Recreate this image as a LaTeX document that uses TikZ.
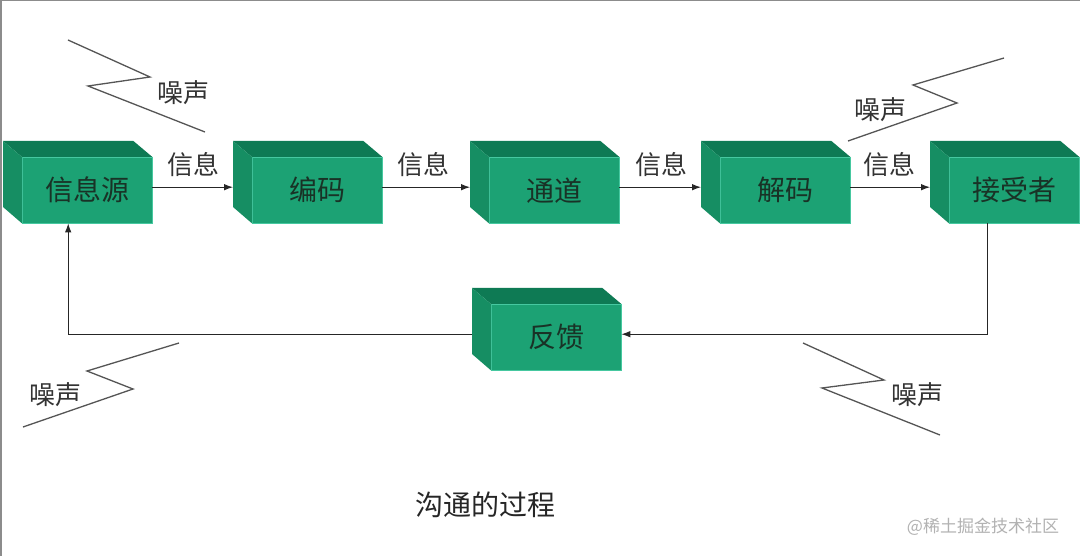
\documentclass[tikz,border=0pt]{standalone}
\usepackage{fontspec}
\setmainfont{Noto Sans CJK SC}
\usetikzlibrary{arrows.meta,calc}
\definecolor{gfront}{RGB}{28,162,116}
\definecolor{gtop}{RGB}{14,122,84}
\definecolor{gleft}{RGB}{22,142,99}
\definecolor{gedge}{RGB}{70,200,160}
\definecolor{gtext}{RGB}{25,50,38}
\definecolor{noisec}{RGB}{85,85,85}
\definecolor{framec}{RGB}{140,140,140}
\tikzset{
  front/.style={fill=gfront, draw=gedge, line width=0.4pt, minimum width=130pt, minimum height=66pt, inner sep=0pt, text=gtext, font=\fontsize{28}{28}\selectfont},
  arr/.style={draw=black!85, line width=0.9pt, -{Latex[length=9pt,width=6.5pt]}},
  lbl/.style={font=\fontsize{26}{26}\selectfont, text=black!80, inner sep=0pt},
  noise/.style={draw=noisec, line width=1.3pt, line join=miter},
}
\newcommand\gcube[4]{%
  \node[front, anchor=north west] (#1) at (#2,#3) {\raisebox{-3pt}{#4}};
  \fill[gtop] (#1.north west) -- ++(-19,-16) -- ([xshift=-19pt,yshift=16pt]#1.north east) -- (#1.north east) -- cycle;
  \fill[gleft] (#1.north west) -- ++(-19,-16) -- ++(0,66) -- (#1.south west) -- cycle;
}
\begin{document}
\begin{tikzpicture}[x=1pt,y=-1pt]
\useasboundingbox (0,0) rectangle (1080,556);
\fill[white] (0,0) rectangle (1080,556);
\draw[framec, line width=1.2pt] (1,556) -- (1,0.6) -- (1080,0.6);

% boxes
\gcube{src}{22}{157}{信息源}
\gcube{enc}{252}{157}{编码}
\gcube{chn}{489}{157}{通道}
\gcube{dec}{720}{157}{解码}
\gcube{rcv}{949}{157}{接受者}
\gcube{fb}{491}{304}{反馈}

% forward arrows
\draw[arr] ([yshift=3pt]src.east) -- ([xshift=-19pt,yshift=3pt]enc.west);
\draw[arr] ([yshift=3pt]enc.east) -- ([xshift=-19pt,yshift=3pt]chn.west);
\draw[arr] ([yshift=3pt]chn.east) -- ([xshift=-19pt,yshift=3pt]dec.west);
\draw[arr] ([yshift=3pt]dec.east) -- ([xshift=-19pt,yshift=3pt]rcv.west);

\node[lbl] (m1) at (193,165) {信息};
\node[lbl] (m2) at (423,165) {信息};
\node[lbl] (m3) at (661,165) {信息};
\node[lbl] (m4) at (889,165) {信息};

% feedback loop
\draw[arr] ([xshift=-27pt]rcv.south) |- ([yshift=3pt]fb.east);
\draw[arr] ([xshift=-19pt,yshift=3pt]fb.west) -| ([xshift=-19pt]src.south);

% noise
\draw[noise] (68,40) -- (150,77) -- (88,86) -- (205,132);
\node[lbl] (n1) at (183,93) {噪声};
\draw[noise] (1004,58) -- (913,85) -- (957,103) -- (848,141);
\node[lbl] (n2) at (880,110) {噪声};
\draw[noise] (179,343) -- (87,371) -- (133,389) -- (23,427);
\node[lbl] (n3) at (55,395) {噪声};
\draw[noise] (803,343) -- (884,380) -- (822,388) -- (940,435);
\node[lbl] (n4) at (917,395) {噪声};

% caption and mark
\node[font=\fontsize{28}{28}\selectfont, text=black!85, inner sep=0pt] (cap) at (485,505) {沟通的过程};
\node[font=\fontsize{17}{17}\selectfont, text=black!30, inner sep=0pt] (wm) at (983,527) {@稀土掘金技术社区};
\end{tikzpicture}
\end{document}
